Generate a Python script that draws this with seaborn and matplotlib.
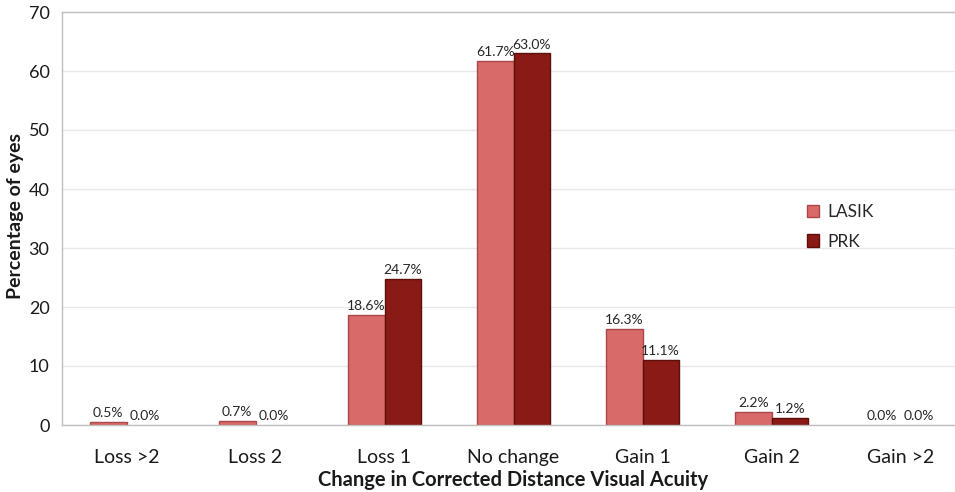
import matplotlib
matplotlib.use("Agg")
import matplotlib.pyplot as plt
import seaborn as sns
import pandas as pd
import numpy as np

categories = ["Loss >2", "Loss 2", "Loss 1", "No change", "Gain 1", "Gain 2", "Gain >2"]
lasik = [0.5, 0.7, 18.6, 61.7, 16.3, 2.2, 0.0]
prk = [0.0, 0.0, 24.7, 63.0, 11.1, 1.2, 0.0]
groups = ["LASIK", "PRK"]
y_ticks = [0, 10, 20, 30, 40, 50, 60, 70]

df = pd.DataFrame({
    "category": categories * 2,
    "value": lasik + prk,
    "group": [groups[0]] * len(categories) + [groups[1]] * len(categories),
})

sns.set_style("white")
plt.rcParams["font.family"] = ["Lato", "DejaVu Sans"]

face = {"LASIK": "#D96A6A", "PRK": "#8A1A15"}
edge = {"LASIK": "#A9474A", "PRK": "#5C0F0B"}

fig = plt.figure(figsize=(9.55, 4.92), dpi=100)
ax = fig.add_axes([62 / 955, 67 / 492, 903 / 955, 413 / 492])

sns.barplot(data=df, x="category", y="value", hue="group", order=categories,
            hue_order=groups, palette=face, width=0.565, dodge=True,
            errorbar=None, ax=ax, saturation=1)

for cont, g in zip(ax.containers, groups):
    for p, v in zip(cont, cont.datavalues):
        p.set_edgecolor(edge[g])
        p.set_linewidth(1.0 if v > 0 else 0)
    ax.bar_label(cont, labels=[f"{v:.1f}%" for v in cont.datavalues],
                 padding=2, fontsize=10, color="#262626")

ax.set_xlim(-0.5, len(categories) - 0.5)
ax.set_ylim(0, 70)
ax.set_yticks(y_ticks)
ax.yaxis.grid(True, color="#E8E8E8", linewidth=1)
ax.set_axisbelow(True)

ax.set_xticks(np.arange(len(categories)))
ax.set_xticklabels(categories, fontsize=14, color="#1a1a1a")
ax.set_xticks(np.arange(len(categories) + 1) - 0.5, minor=True)
ax.tick_params(axis="x", which="major", length=0, pad=17)
ax.tick_params(axis="x", which="minor", length=6, color="#BFBFBF", width=1)
ax.tick_params(axis="y", length=5, color="#BFBFBF", width=1, labelsize=13,
               labelcolor="#1a1a1a", pad=4)

for side in ["left", "bottom", "top"]:
    ax.spines[side].set_color("#BFBFBF")
    ax.spines[side].set_linewidth(1)
ax.spines["right"].set_visible(False)

ax.set_xlabel("Change in Corrected Distance Visual Acuity", fontsize=14.5,
              fontweight="bold", color="#1a1a1a")
ax.xaxis.set_label_coords((513 - 62) / 903, -(480 - 425) / 413)
ax.xaxis.label.set_va("center")
ax.set_ylabel("Percentage of eyes", fontsize=14, fontweight="bold",
              color="#1a1a1a")
ax.yaxis.set_label_coords(-(62 - 16) / 903, (425 - 216) / 413)
ax.yaxis.label.set_va("center")

leg = ax.legend(loc="center left", bbox_to_anchor=((807 - 62) / 903, (425 - 227) / 413),
                frameon=False, fontsize=12.5, handlelength=0.7, handleheight=0.7,
                handletextpad=0.5, labelspacing=0.75, borderpad=0, borderaxespad=0)
for h, g in zip(leg.legend_handles, groups):
    h.set_edgecolor(edge[g])

fig.savefig("out.png", dpi=100)
